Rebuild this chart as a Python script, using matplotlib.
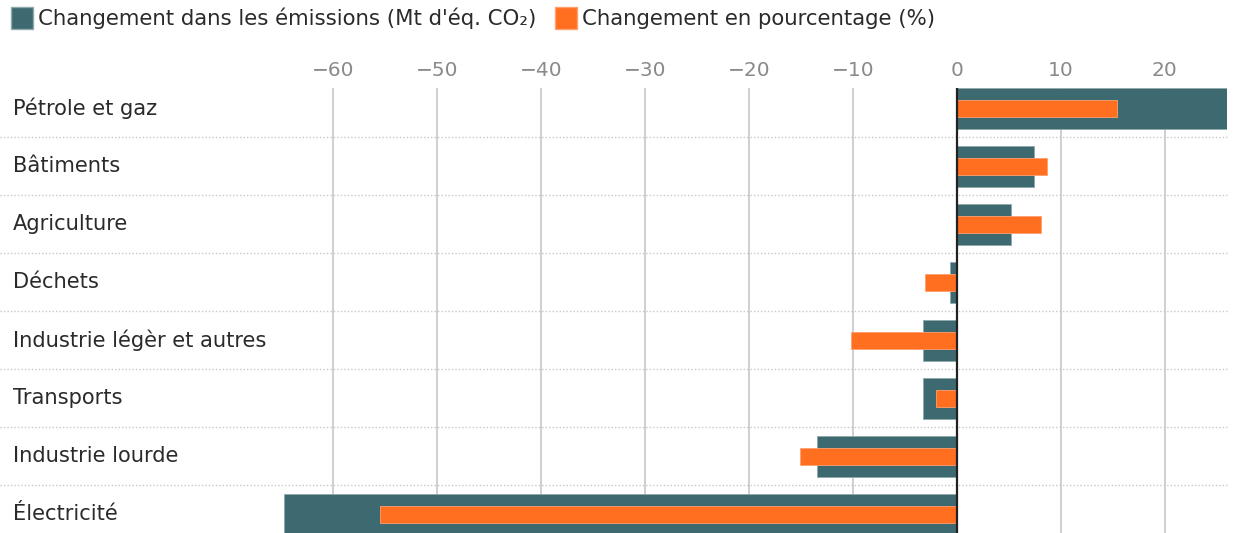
import matplotlib
matplotlib.use("Agg")
import matplotlib.pyplot as plt
from matplotlib.patches import Patch
import numpy as np

categories = ["Pétrole et gaz", "Bâtiments", "Agriculture", "Déchets",
              "Industrie légèr et autres", "Transports", "Industrie lourde", "Électricité"]
emissions = [26.0, 7.4, 5.2, -0.65, -3.2, -3.2, -13.4, -64.7]
percent = [15.45, 8.7, 8.15, -3.0, -10.2, -1.95, -15.1, -55.5]
ticks = [-60, -50, -40, -30, -20, -10, 0, 10, 20]
series_names = ["Changement dans les émissions (Mt d'éq. CO₂)", "Changement en pourcentage (%)"]

TEAL = "#3d6a70"
ORANGE = "#ff6f1f"

plt.rcParams['font.family'] = ['DejaVu Sans']

W, H = 1233, 533
fig = plt.figure(figsize=(W/100, H/100), dpi=100)
left, right = 284/W, 1227/W
top, bottom = 88/H, 534.6/H
ax = fig.add_axes([left, 1-bottom, right-left, bottom-top])

y = np.arange(len(categories))
ax.barh(y, emissions, height=0.7, color=TEAL, edgecolor="#8fa9ac", linewidth=0.6, zorder=3)
ax.barh(y, percent, height=0.3, color=ORANGE, edgecolor="#ffa070", linewidth=0.6, zorder=4)

ax.set_xlim(min(emissions), max(emissions))
ax.set_ylim(len(categories)-1+0.35, -0.35)

ax.set_xticks(ticks)
ax.set_xticklabels([f"{t}".replace("-", "−") for t in ticks])
ax.xaxis.tick_top()
ax.tick_params(axis='x', length=0, pad=6, labelsize=14.5, labelcolor="#8a8a8a")
ax.set_yticks([])
for s in ax.spines.values():
    s.set_visible(False)
for t in ticks:
    if t != 0:
        ax.axvline(t, color="#cccccc", linewidth=1.3, zorder=1)
ax.axvline(0, color="#222222", linewidth=1.6, zorder=5)

# separators and labels
trans = matplotlib.transforms.blended_transform_factory(ax.transAxes, ax.transData)
x0 = -284/943
for i in range(len(categories)-1):
    ax.plot([x0, 1], [i+0.5, i+0.5], transform=trans, color="#c8c8c8",
            linewidth=1.0, linestyle=(0, (1, 1.5)), clip_on=False, zorder=2)
for i, c in enumerate(categories):
    ax.text(-271/943, i, c, transform=trans, ha="left", va="center",
            fontsize=15.1, color="#2a2a2a")

handles = [Patch(facecolor=TEAL, edgecolor="#8fa9ac"), Patch(facecolor=ORANGE, edgecolor="#ffa070")]
fig.legend(handles, series_names, loc="upper left", bbox_to_anchor=(5/W, 1-1/H),
           ncol=2, frameon=False, fontsize=15.3, handlelength=1.0, handleheight=1.2,
           handletextpad=0.25, columnspacing=0.9, borderaxespad=0, borderpad=0.3,
           labelcolor="#2a2a2a")

fig.savefig("out.png", dpi=100)
